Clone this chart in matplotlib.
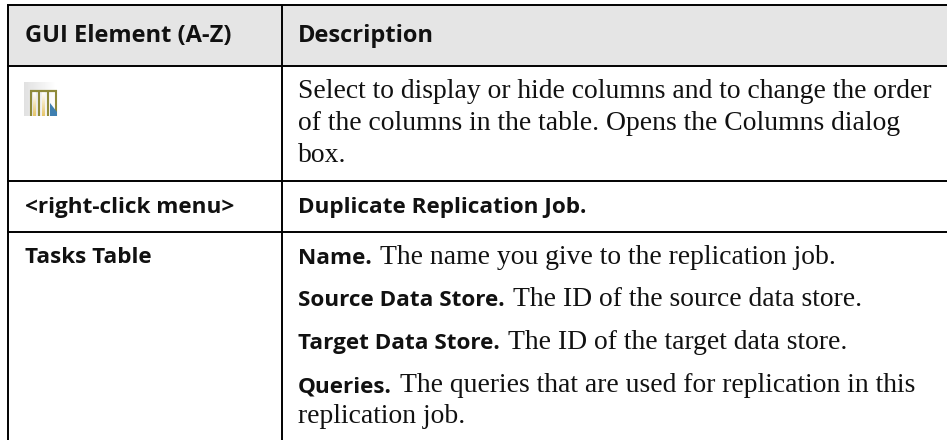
#!/usr/bin/env python3
"""GUI element / description table, drawn in pixel coordinates."""
import numpy as np
import matplotlib
matplotlib.use("Agg")
import matplotlib.pyplot as plt
from matplotlib.colors import LinearSegmentedColormap
from matplotlib.patches import Rectangle, Polygon

W, H = 947, 440
SANS = "Open Sans"
SERIF = "Liberation Serif"
INK = "#111111"

HEADERS = ["GUI Element (A-Z)", "Description"]
LEFT_LABELS = ["<right-click menu>", "Tasks Table"]
LEFT_BASE = [213, 263]
# (bold lead-in, plain text, baseline)
BODY = [("", "Select to display or hide columns and to change the order", 98),
        ("", "of the columns in the table. Opens the Columns dialog", 130),
        ("", "box.", 162),
        ("Duplicate Replication Job.", "", 213),
        ("Name.", " The name you give to the replication job.", 264),
        ("Source Data Store.", " The ID of the source data store.", 306),
        ("Target Data Store.", " The ID of the target data store.", 349),
        ("Queries.", " The queries that are used for replication in this", 392),
        ("", "replication job.", 423)]
HLINES = [5.5, 66, 181, 232]
VLINES = [8, 282]

fig = plt.figure(figsize=(W / 100, H / 100), dpi=100)
ax = fig.add_axes([0, 0, 1, 1])
ax.set_xlim(0, W)
ax.set_ylim(H, 0)
ax.axis("off")

# header band and rules
ax.add_patch(Rectangle((8, 5), W - 8, 61, color="#e5e5e5", lw=0))
for y in HLINES:
    ax.plot([7, W], [y, y], color="black", lw=1.4, solid_capstyle="butt")
for x in VLINES:
    ax.plot([x, x], [5, H], color="black", lw=1.4, solid_capstyle="butt")

for x, s in zip([25, 298], HEADERS):
    ax.text(x, 42, s, family=SANS, weight="bold", fontsize=17, color=INK, va="baseline")
for s, y in zip(LEFT_LABELS, LEFT_BASE):
    ax.text(25, y, s, family=SANS, weight="bold", fontsize=16.2, color=INK, va="baseline")

fig.canvas.draw()
rend = fig.canvas.get_renderer()
for lead, rest, y in BODY:
    x = 298
    if lead:
        t = ax.text(x, y, lead, family=SANS, weight="bold", fontsize=16.2, color=INK, va="baseline")
        x = t.get_window_extent(rend).x1 * W / fig.bbox.width
    if rest:
        ax.text(x + (8 if rest.startswith(" ") else 0), y, rest.strip(), family=SERIF,
                fontsize=19.9, color=INK, va="baseline")

# columns icon: grey fading to white, three open columns with a blue corner
ax.imshow(np.linspace(0.88, 1, 33).reshape(1, -1), extent=(24, 57, 116, 82), cmap="gray",
          vmin=0, vmax=1, aspect="auto", zorder=1)
stripe = LinearSegmentedColormap.from_list("stripe", ["#ffffff", "#e6c66a"])
for x in [34.5, 43]:
    ax.imshow(np.linspace(0, 1, 24).reshape(-1, 1), extent=(x - 1.5, x + 1.5, 116, 92), cmap=stripe,
              aspect="auto", zorder=2)
ax.set_xlim(0, W)
ax.set_ylim(H, 0)
ax.plot([30, 57], [91, 91], color="#8f8a3a", lw=1.6, zorder=3, solid_capstyle="butt")
for x in [31, 39, 47.5, 56]:
    ax.plot([x, x], [90, 116], color="#8f8a3a", lw=1.5, zorder=3, solid_capstyle="butt")
ax.add_patch(Polygon([[50, 103], [57, 112], [57, 116], [50, 116]], color="#3f7fb0", lw=0, zorder=4))

fig.savefig("out.png", dpi=100)
